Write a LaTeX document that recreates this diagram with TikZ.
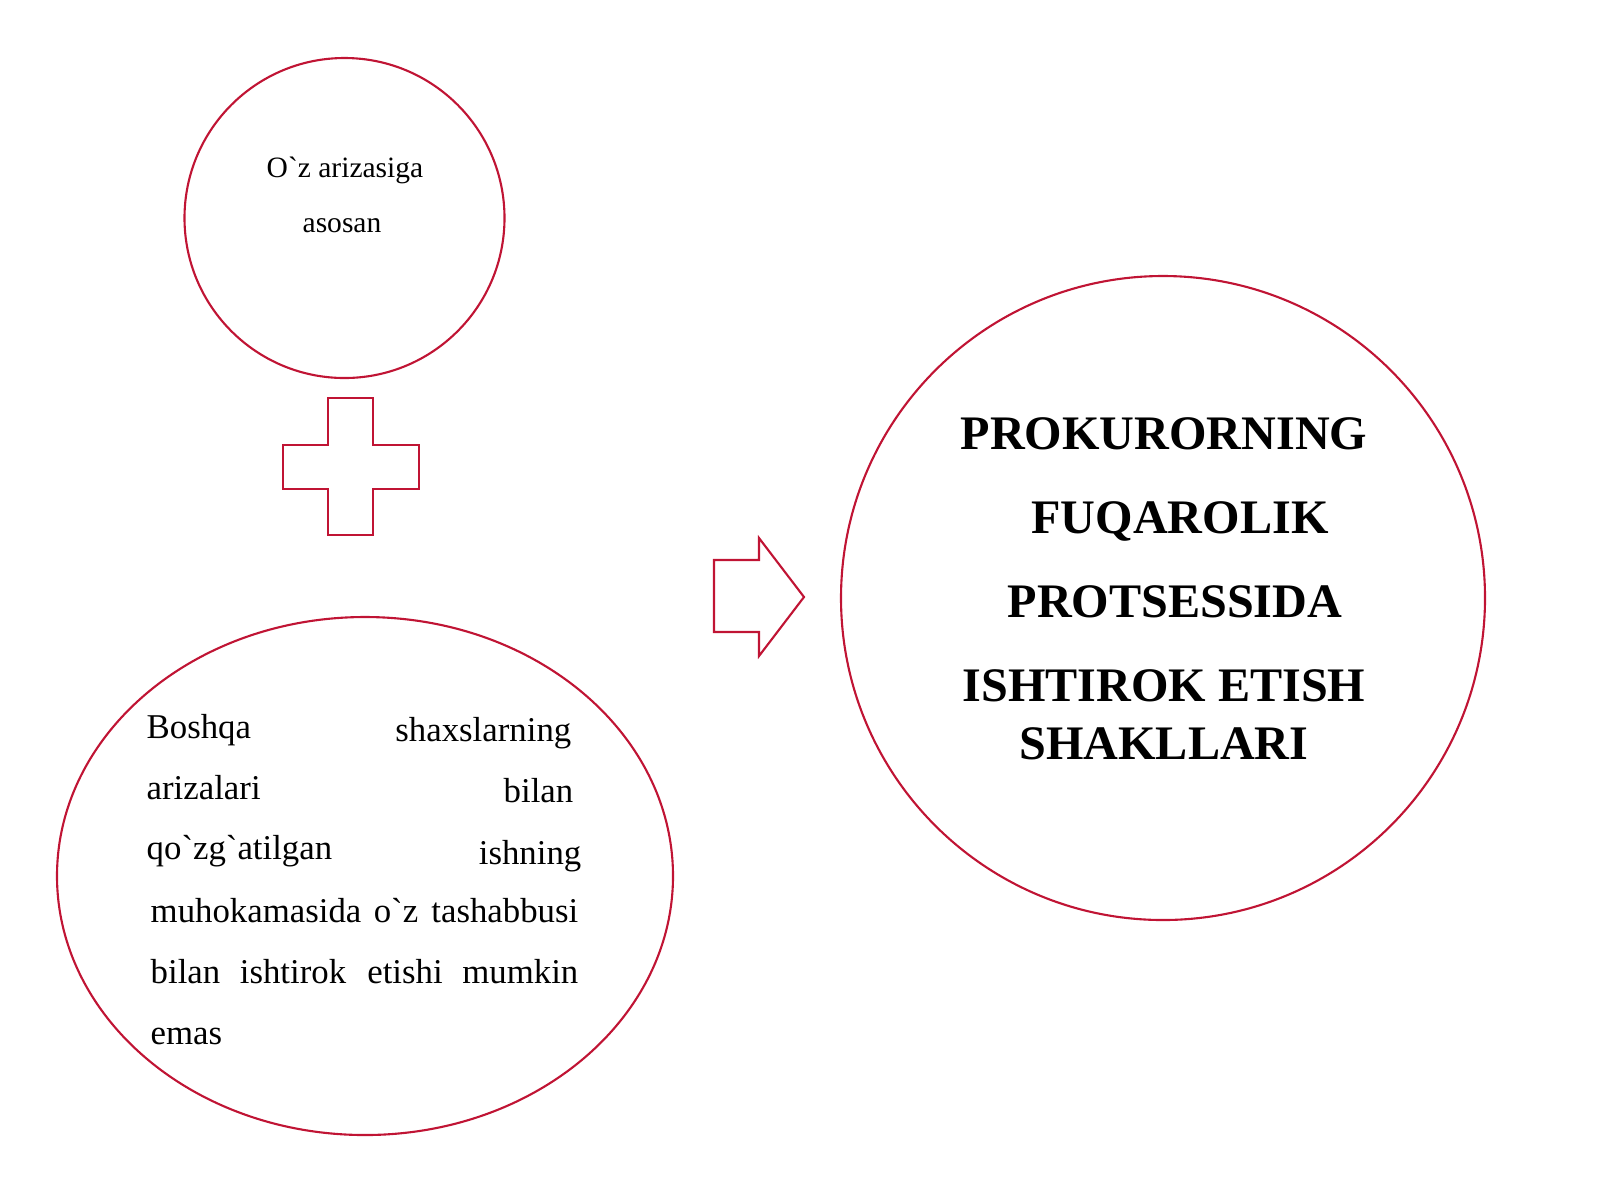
\documentclass[tikz,border=0pt]{standalone}
\usepackage{fontspec}
\setmainfont{Liberation Serif}[Ligatures=TeXOff]
\usetikzlibrary{shapes.geometric}

\definecolor{rim}{RGB}{192,20,52}

\tikzset{
  blob/.style={draw=rim, line width=0.6pt, inner sep=0pt},
  sign/.style={draw=rim, line width=0.6pt, line join=miter},
  word/.style={inner sep=0pt, font=\fontsize{9.9}{12}\selectfont},
  small/.style={inner sep=0pt, font=\fontsize{8.4}{10}\selectfont},
  title/.style={inner sep=0pt, anchor=base, font=\fontsize{13.7}{16}\selectfont\bfseries},
}

\begin{document}
\begin{tikzpicture}
        \useasboundingbox (0,0) rectangle (16,-12);
        % \draw[help lines] (0,0) grid (16,-12);

        % shapes
        \node[blob,circle,minimum size=3.2cm] at (3.445,-2.18) (own) {};
        \node[blob,ellipse,minimum width=6.16cm,minimum height=5.18cm] at (3.65,-8.76) (others) {};
        \node[blob,circle,minimum size=6.44cm] at (11.63,-5.98) (forms) {};

        \coordinate (plus) at (3.51,-4.67);
        \coordinate (arrow) at (7.14,-5.97);

        \draw[sign] (plus) ++(-0.23,0.69) -- ++(0.45,0) -- ++(0,-0.47) -- ++(0.46,0)
            -- ++(0,-0.44) -- ++(-0.46,0) -- ++(0,-0.46) -- ++(-0.45,0) -- ++(0,0.46)
            -- ++(-0.45,0) -- ++(0,0.44) -- ++(0.45,0) -- cycle;

        \draw[sign] (arrow) ++(0,0.37) -- ++(0.45,0) -- ++(0,0.22) -- ++(0.45,-0.59)
            -- ++(-0.45,-0.59) -- ++(0,0.24) -- ++(-0.45,0) -- cycle;

        % top circle
        \node[small,anchor=base] at (3.45,-1.77) (own1) {O`z arizasiga};
        \node[small,anchor=base] at (3.42,-2.32) (own2) {asosan};

        % ellipse
        \node[word,anchor=base west] at (1.46,-7.38) (o1) {Boshqa};
        \node[word,anchor=base east] at (5.72,-7.41) (o2) {shaxslarning};
        \node[word,anchor=base west] at (1.46,-7.99) (o3) {arizalari};
        \node[word,anchor=base east] at (5.74,-8.02) (o4) {bilan};
        \node[word,anchor=base west] at (1.46,-8.59) (o5) {qo`zg`atilgan};
        \node[word,anchor=base east] at (5.82,-8.64) (o6) {ishning};
        \node[word,anchor=base west] at (1.50,-9.22) (o7a) {muhokamasida};
        \node[word,anchor=base] at (3.96,-9.22) (o7b) {o`z};
        \node[word,anchor=base east] at (5.79,-9.22) (o7c) {tashabbusi};
        \node[word,anchor=base west] at (1.50,-9.83) (o8a) {bilan};
        \node[word,anchor=base] at (2.93,-9.83) (o8b) {ishtirok};
        \node[word,anchor=base] at (4.05,-9.83) (o8c) {etishi};
        \node[word,anchor=base east] at (5.79,-9.83) (o8d) {mumkin};
        \node[word,anchor=base west] at (1.50,-10.44) (o9) {emas};

        % big circle
        \node[title] at (11.64,-4.49) (f1) {PROKURORNING};
        \node[title] at (11.80,-5.33) (f2) {FUQAROLIK};
        \node[title] at (11.75,-6.17) (f3) {PROTSESSIDA};
        \node[title] at (11.64,-7.01) (f4) {ISHTIROK ETISH};
        \node[title] at (11.64,-7.59) (f5) {SHAKLLARI};
\end{tikzpicture}
\end{document}
